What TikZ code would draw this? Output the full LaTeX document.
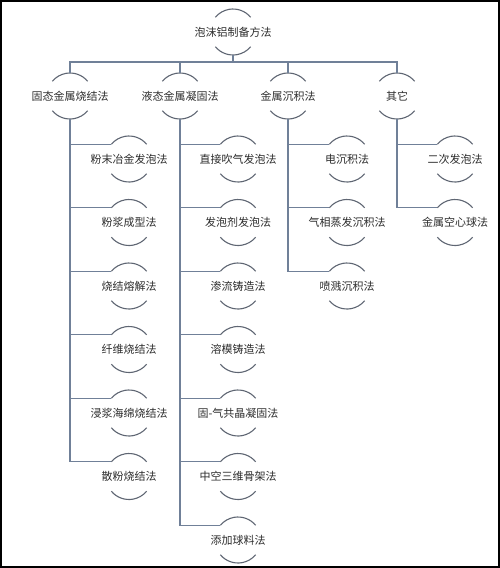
\documentclass[tikz,border=0pt]{standalone}
\usepackage{fontspec}
\newfontfamily\cjk{Noto Sans CJK SC}
\usetikzlibrary{calc}
\definecolor{linec}{RGB}{112,128,152}
\definecolor{arcc}{RGB}{95,102,115}
\definecolor{txtc}{RGB}{45,45,45}
\newcommand\mkbub[1]{%
  \draw[arcline] ($(#1.center)+(40:23pt)$) arc[start angle=40,end angle=140,radius=23pt];
  \draw[arcline] ($(#1.center)+(220:23pt)$) arc[start angle=220,end angle=320,radius=23pt];
  \coordinate (#1T) at ($(#1.center)+(0,23pt)$);
  \coordinate (#1B) at ($(#1.center)+(0,-23pt)$);
  \coordinate (#1L) at ($(#1.center)+(140:23pt)$);
}
\begin{document}
\begin{tikzpicture}[x=1pt,y=1pt,
  lbl/.style={font=\cjk\fontsize{11pt}{13pt}\selectfont, text=txtc, inner sep=0pt},
  conn/.style={draw=linec, line width=1.1pt},
  arcline/.style={draw=arcc, line width=1.1pt}]
\useasboundingbox (0,0) rectangle (500,-568);
\fill[white] (0,0) rectangle (500,-568);
\draw[black, line width=1.6pt] (0.8,-0.8) rectangle (499.2,-567.2);

\node[lbl] (root) at (233,-32) {泡沫铝制备方法};
\node[lbl] (a) at (70,-96) {固态金属烧结法};
\node[lbl] (b) at (180,-96) {液态金属凝固法};
\node[lbl] (c) at (288,-96) {金属沉积法};
\node[lbl] (d) at (397,-96) {其它};

\node[lbl] (a1) at (129,-159) {粉末冶金发泡法};
\node[lbl] (a2) at (129,-222.5) {粉浆成型法};
\node[lbl] (a3) at (129,-286) {烧结熔解法};
\node[lbl] (a4) at (129,-349.5) {纤维烧结法};
\node[lbl] (a5) at (129,-413) {浸浆海绵烧结法};
\node[lbl] (a6) at (129,-476.5) {散粉烧结法};

\node[lbl] (b1) at (238,-159) {直接吹气发泡法};
\node[lbl] (b2) at (238,-222.5) {发泡剂发泡法};
\node[lbl] (b3) at (238,-286) {渗流铸造法};
\node[lbl] (b4) at (238,-349.5) {溶模铸造法};
\node[lbl] (b5) at (238,-413) {固-气共晶凝固法};
\node[lbl] (b6) at (238,-476.5) {中空三维骨架法};
\node[lbl] (b7) at (238,-540) {添加球料法};

\node[lbl] (c1) at (347,-159) {电沉积法};
\node[lbl] (c2) at (347,-222.5) {气相蒸发沉积法};
\node[lbl] (c3) at (347,-286) {喷溅沉积法};

\node[lbl] (d1) at (455,-159) {二次发泡法};
\node[lbl] (d2) at (455,-222.5) {金属空心球法};

\foreach \n in {root,a,b,c,d,a1,a2,a3,a4,a5,a6,b1,b2,b3,b4,b5,b6,b7,c1,c2,c3,d1,d2} {\mkbub{\n}}

\draw[conn] (rootB) -- ++(0,-7pt) coordinate (bar);
\foreach \n in {a,b,c,d} {\draw[conn] (bar) -| (\n T);}
\foreach \n in {a1,a2,a3,a4,a5,a6} {\draw[conn] (aB) |- (\n L);}
\foreach \n in {b1,b2,b3,b4,b5,b6,b7} {\draw[conn] (bB) |- (\n L);}
\foreach \n in {c1,c2,c3} {\draw[conn] (cB) |- (\n L);}
\foreach \n in {d1,d2} {\draw[conn] (dB) |- (\n L);}
\end{tikzpicture}
\end{document}
